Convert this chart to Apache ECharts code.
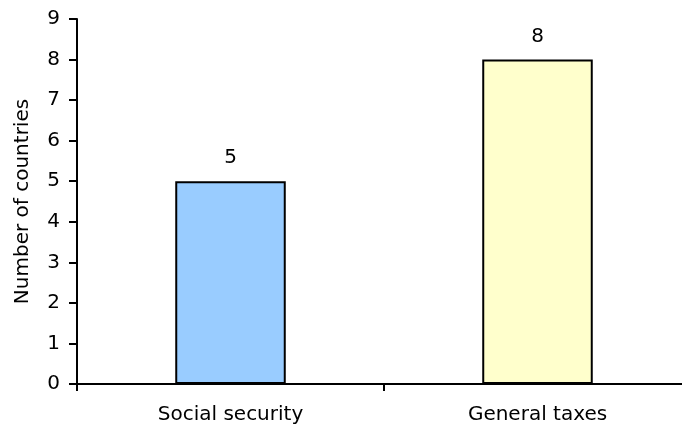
<!DOCTYPE html>
<html><head><meta charset="utf-8">
<script src="https://cdn.jsdelivr.net/npm/echarts@6/dist/echarts.min.js"></script>
<style>html,body{margin:0;padding:0;background:#fff}#c{width:682px;height:430px}</style>
</head><body><div id="c"></div>
<script>
var categories = ["Social security", "General taxes"];
var values = [5, 8];
var barColors = ["#99CCFF", "#FFFFCC"];
var yTicks = [0,1,2,3,4,5,6,7,8,9];

var chart = echarts.init(document.getElementById('c'), null, {renderer:'canvas'});
var font = "DejaVu Sans";
var fs = 20;
chart.setOption({
  animation:false,
  backgroundColor:'#fff',
  grid:{left:77, width:614, top:19, bottom:46, containLabel:false, outerBoundsMode:'none'},
  xAxis:{
    type:'category', data:categories, boundaryGap:true,
    axisLine:{lineStyle:{color:'#000', width:2}},
    axisTick:{show:true, length:7, lineStyle:{color:'#000', width:2}},
    axisLabel:{color:'#000', fontFamily:font, fontSize:fs, margin:21}
  },
  yAxis:{
    type:'value', min:yTicks[0], max:yTicks[yTicks.length-1], interval:1,
    name:'Number of countries', nameLocation:'middle', nameGap:44,
    nameTextStyle:{color:'#000', fontFamily:font, fontSize:fs},
    axisLine:{show:true, lineStyle:{color:'#000', width:2}},
    axisTick:{show:true, length:8, lineStyle:{color:'#000', width:2}},
    axisLabel:{color:'#000', fontFamily:font, fontSize:fs, margin:17},
    splitLine:{show:false}
  },
  series:[{
    type:'bar', barWidth:'36%',
    data: values.map(function(v,i){return {value:v, itemStyle:{color:barColors[i]}};}),
    itemStyle:{borderColor:'#000', borderWidth:2},
    label:{show:true, position:'top', distance:13, color:'#000', fontFamily:font, fontSize:fs}
  }]
});
</script></body></html>
